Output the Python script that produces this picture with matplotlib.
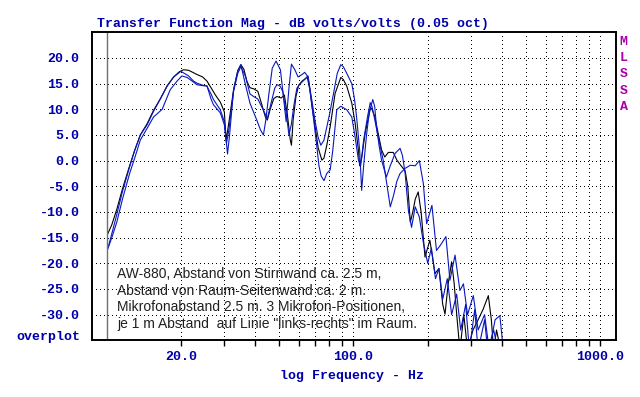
import matplotlib
matplotlib.use("Agg")
import matplotlib.pyplot as plt

# black trace
freq_k = [10.1, 10.5, 11.0, 11.6, 12.4, 13.0, 13.7, 14.6, 15.5, 16.5, 17.6, 18.7, 19.7, 20.5, 21.5,
          23.2, 24.5, 25.5, 26.5, 27.5, 28.9, 30.0, 30.5, 31.2, 32.7, 34.0, 35.0, 36.0, 37.0, 38.1,
          39.4, 41.0, 42.5, 44.0, 44.8, 46.0, 47.6, 49.0, 51.0, 52.5, 54.0, 55.5, 56.1, 57.0, 58.5,
          60.0, 62.0, 64.0, 65.0, 66.5, 68.0, 70.0, 72.0, 74.5, 76.0, 78.0, 80.5, 84.3, 88.9, 91.0,
          94.0, 98.5, 101.6, 104.8, 106.0, 108.0, 111.5, 116.8, 118.5, 122.0, 126.0, 130.0, 134.0,
          138.5, 145.0, 150.0, 156.0, 162.0, 166.0, 170.0, 174.0, 178.0, 183.0, 188.0, 195.0, 204.0,
          214.0, 222.0, 230.0, 235.0, 242.0, 250.0, 256.0, 262.0, 270.0, 280.0, 290.0, 305.0, 320.0,
          335.0, 352.0, 362.0, 370.0, 380.0, 395.0]
db_k = [-14.3, -12.5, -9.5, -5.5, -1.0, 2.0, 5.0, 7.2, 9.8, 12.0, 14.6, 16.3, 17.3, 17.7, 17.6,
        16.8, 16.3, 15.5, 14.2, 12.9, 11.4, 9.5, 4.0, 7.0, 13.8, 17.5, 18.7, 17.8, 15.5, 14.2,
        14.0, 13.5, 11.0, 8.5, 7.9, 10.0, 12.1, 12.5, 12.2, 12.8, 9.0, 4.0, 3.0, 8.0, 12.5,
        14.7, 15.5, 16.0, 16.3, 14.0, 10.5, 6.5, 2.5, 0.1, 0.5, 3.0, 6.6, 13.1, 16.2, 15.8,
        14.5, 11.2, 7.3, 2.0, -1.0, 0.5, 5.3, 9.9, 10.2, 8.6, 5.3, 2.1, 0.7,
        1.6, 1.6, 0.1, -1.0, -2.0, -5.0, -12.0, -10.0, -7.5, -6.1, -10.0, -18.8, -15.5,
        -22.0, -21.0, -28.0, -29.9, -24.0, -19.7, -24.0, -29.9, -37.0, -30.0, -37.0, -33.0, -31.0,
        -29.0, -26.3, -31.0, -37.0, -33.0, -37.0]

# blue trace, upper
freq_b2 = [10.2, 10.6, 11.0, 11.6, 12.4, 13.0, 13.7, 14.6, 15.5, 16.5, 17.6, 18.7, 20.0, 21.5, 22.5,
           23.2, 24.5, 25.5, 26.5, 27.1, 28.9, 30.0, 30.9, 31.5, 32.7, 34.0, 35.0, 36.4, 38.1, 40.6,
           42.0, 43.2, 44.2, 45.4, 46.9, 48.6, 50.6, 51.8, 53.4, 54.8, 56.1, 57.9, 59.7, 62.0, 63.5,
           65.5, 68.0, 70.0, 72.0, 73.8, 76.0, 80.0, 83.0, 86.0, 88.9, 91.0, 94.0, 98.5, 101.0, 103.0,
           106.0, 108.0, 110.0, 113.0, 116.0, 119.8, 122.0, 124.0, 127.0, 130.0, 136.0, 141.0, 147.5,
           154.5, 158.0, 162.0, 167.0, 172.0, 178.0, 185.0, 192.0, 200.0, 207.0, 215.0, 222.0, 230.0,
           240.0, 250.0, 262.0, 272.0, 285.0, 295.0, 310.0, 320.0, 340.0, 350.0, 370.0, 385.0]
db_b2 = [-16.5, -13.5, -10.5, -6.0, -1.2, 2.0, 5.0, 7.0, 9.6, 12.0, 14.5, 16.3, 17.4, 16.5, 15.5,
         15.1, 14.7, 14.5, 13.0, 11.9, 9.9, 7.6, 1.3, 5.0, 13.8, 17.5, 18.7, 15.1, 11.2, 7.9,
         6.0, 5.0, 8.0, 12.8, 18.0, 19.4, 17.7, 13.4, 7.6, 14.1, 18.8, 17.7, 16.3, 16.8, 17.2,
         16.3, 11.5, 7.6, 4.5, 3.0, 4.0, 9.0, 13.0, 17.0, 18.7, 18.3, 17.0, 15.0, 12.0, 8.5,
         2.0, -5.8, -1.0, 5.0, 9.5, 11.9, 10.5, 6.6, 3.0, 0.1, -3.2, -1.0, 1.4,
         2.4, 1.0, -2.5, -9.7, -13.0, -9.0, -11.0, -16.0, -20.0, -17.0, -23.0, -21.0, -27.0,
         -23.0, -30.0, -26.0, -33.0, -28.0, -37.0, -29.0, -37.0, -31.0, -37.0, -33.0, -37.0]

# blue trace, lower
freq_b1 = [10.1, 10.5, 11.0, 11.6, 12.4, 13.0, 13.7, 14.6, 15.5, 16.8, 18.1, 19.3, 20.2, 21.2, 22.5,
           23.2, 24.5, 25.5, 26.5, 27.1, 28.9, 30.0, 30.6, 31.3, 32.7, 34.0, 35.0, 36.5, 38.1, 39.4,
           41.0, 42.5, 44.8, 46.0, 48.0, 49.0, 50.5, 51.8, 53.5, 54.8, 56.0, 57.5, 59.0, 61.0, 64.0,
           65.5, 67.0, 69.0, 71.0, 72.5, 74.0, 76.0, 78.0, 80.5, 82.5, 85.6, 88.9, 94.0, 98.5, 101.6,
           104.8, 107.0, 110.0, 114.0, 117.0, 119.0, 122.0, 126.0, 132.0, 136.0, 141.0, 145.0, 150.0,
           154.5, 162.0, 170.0, 178.0, 185.0, 192.0, 198.0, 208.0, 217.0, 225.0, 237.0, 246.0, 258.0,
           270.0, 279.0, 290.0, 306.0, 320.0, 340.0, 355.0, 375.0, 392.0, 405.0]
db_b1 = [-17.3, -15.0, -12.0, -7.5, -2.5, 0.5, 4.0, 6.3, 8.5, 10.0, 13.8, 15.5, 16.5, 16.2, 15.3,
         14.8, 14.6, 14.6, 12.0, 10.9, 9.3, 7.0, 3.4, 6.0, 13.5, 17.0, 18.3, 16.5, 13.0, 12.5,
         12.0, 10.5, 8.2, 10.5, 14.1, 14.8, 14.5, 13.4, 9.0, 5.0, 7.0, 11.0, 14.1, 15.0, 16.0,
         16.5, 13.0, 8.0, 3.0, -1.0, -3.0, -3.9, -2.5, -1.8, 2.0, 9.9, 10.6, 9.9, 8.5, 4.6,
         0.1, -1.0, 4.0, 8.5, 11.3, 10.5, 8.0, 4.6, 0.1, -4.0, -9.0, -7.0, -4.0,
         -2.5, -1.5, -0.9, -1.0, 0.0, -4.5, -12.3, -8.7, -17.5, -16.5, -14.8, -23.3, -18.4,
         -25.3, -24.0, -30.0, -26.3, -33.0, -30.0, -37.0, -31.0, -30.2, -37.0]

y_ticks = [20, 15, 10, 5, 0, -5, -10, -15, -20, -25, -30]
x_major = [20, 100, 1000]
x_minor = [30, 40, 50, 60, 70, 80, 90, 200, 300, 400, 500, 600, 700, 800, 900]

note_lines = ["AW-880, Abstand von Stirnwand ca. 2.5 m,",
              "Abstand von Raum-Seitenwand ca. 2 m.",
              "Mikrofonabstand 2.5 m. 3 Mikrofon-Positionen,",
              "je 1 m Abstand  auf Linie \"links-rechts\" im Raum."]

TXT = "#0000AA"
CURVE = "#0818C0"
MONO = "Liberation Mono"


def main():
    fig = plt.figure(figsize=(6.4, 3.97), dpi=100)
    ax = fig.add_axes([92 / 640, 1 - 340.3 / 397, 524 / 640, 308 / 397])

    ax.plot(freq_k, db_k, color="black", lw=0.8)
    ax.plot(freq_b1, db_b1, color=CURVE, lw=0.8)
    ax.plot(freq_b2, db_b2, color=CURVE, lw=0.8)

    ax.set_xscale("log")
    ax.set_xlim(8.73, 1158)
    ax.set_ylim(-35, 25)
    ax.axvline(10, color="#707070", lw=1.0)

    ax.set_xticks(x_major)
    ax.set_xticklabels([f"{v:.1f}" for v in x_major])
    ax.set_xticks(x_minor, minor=True)
    ax.set_xticklabels([], minor=True)
    ax.set_yticks(y_ticks)
    ax.set_yticklabels([f"{v:.1f}" for v in y_ticks])

    ax.set_axisbelow(True)
    ax.grid(True, which="both", color="black", linestyle=(0, (1, 3)), linewidth=0.72,
            antialiased=False)

    ax.tick_params(axis="x", which="both", direction="out", length=4, width=1, pad=3.5,
                   colors="black", labelcolor=TXT)
    ax.tick_params(axis="y", length=0, pad=9, labelcolor=TXT)
    for lab in ax.get_xticklabels() + ax.get_yticklabels():
        lab.set_fontfamily(MONO)
        lab.set_fontweight("bold")
        lab.set_fontsize(9.5)
    for sp in ax.spines.values():
        sp.set_linewidth(1.4)

    fig.text(96.7 / 640, 1 - 23.5 / 397, "Transfer Function Mag - dB volts/volts (0.05 oct)",
             family=MONO, weight="bold", size=9.5, color=TXT, va="center", ha="left")
    fig.text(352.5 / 640, 1 - 375.5 / 397, "log Frequency - Hz",
             family=MONO, weight="bold", size=9.5, color=TXT, va="center", ha="center")
    fig.text(80 / 640, 1 - 337 / 397, "overplot",
             family=MONO, weight="bold", size=9.5, color=TXT, va="center", ha="right")
    fig.text(623.5 / 640, 1 - 36 / 397, "\n".join("MLSSA"),
             family=MONO, weight="bold", size=9.5, color="#AA00AA", va="top", ha="center",
             linespacing=1.47)

    fig.text(117 / 640, 1 - 267 / 397, "\n".join(note_lines),
             family="Liberation Sans", size=10, color="#202020", va="top", ha="left",
             linespacing=1.24)

    fig.savefig("out.png", dpi=100, facecolor="white")


if __name__ == "__main__":
    main()
